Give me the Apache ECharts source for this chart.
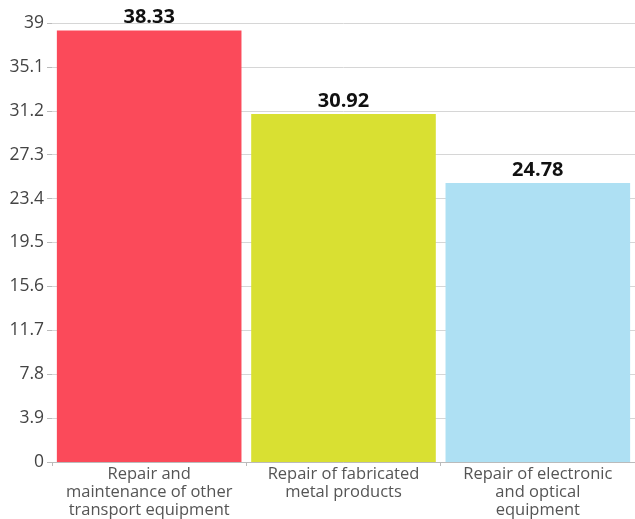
<!DOCTYPE html>
<html><head><meta charset="utf-8">
<script src="https://cdn.jsdelivr.net/npm/echarts@6/dist/echarts.min.js"></script>
<style>html,body{margin:0;padding:0;background:#fff}#c{width:635px;height:519px}</style>
</head><body><div id="c"></div>
<script>
const categories = ["Repair and\nmaintenance of other\ntransport equipment", "Repair of fabricated\nmetal products", "Repair of electronic\nand optical\nequipment"];
const values = [38.33, 30.92, 24.78];
const colors = ["#fb4a5a", "#d9e032", "#aee0f3"];
const chart = echarts.init(document.getElementById('c'));
chart.setOption({
  animation: false,
  grid: {left: 52, right: -2, top: 23, bottom: 57, containLabel: false, show: false},
  xAxis: {
    type: 'category', data: categories,
    axisLine: {show: true, lineStyle: {color: '#bbb', width: 1}},
    axisTick: {show: true, length: 4, lineStyle: {color: '#bbb'}},
    splitLine: {show: false},
    axisLabel: {color: '#555', fontFamily: 'Open Sans', fontSize: 16.5, lineHeight: 18, margin: 3, interval: 0}
  },
  yAxis: {
    type: 'value', min: 0, max: 39, interval: 3.9,
    axisLine: {show: false},
    axisTick: {show: true, length: 5, lineStyle: {color: '#bbb'}},
    splitLine: {show: true, lineStyle: {color: '#d6d6d6', width: 1}},
    axisLabel: {color: '#444', fontFamily: 'Open Sans', fontSize: 17.5, margin: 8}
  },
  series: [{
    type: 'bar', barCategoryGap: '5%',
    data: values.map((v, i) => ({value: v, itemStyle: {color: colors[i]}})),
    label: {show: true, position: 'top', distance: 3, color: '#111', fontWeight: 'bold', fontFamily: 'Open Sans', fontSize: 20}
  }]
});
</script></body></html>
